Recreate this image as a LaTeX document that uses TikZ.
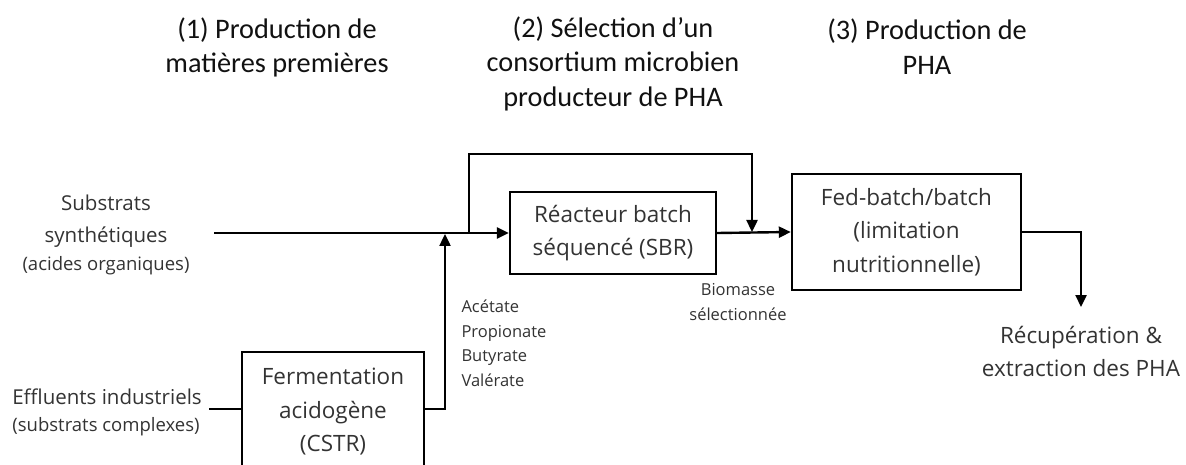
\documentclass[tikz,border=0pt]{standalone}
\usepackage{fontspec}
\setmainfont{Open Sans}
\newfontfamily\headfont{Carlito}
\usetikzlibrary{arrows.meta}
\definecolor{txt}{HTML}{333333}
\definecolor{hd}{HTML}{111111}
\begin{document}
\begin{tikzpicture}[x=1pt,y=-1pt,
  box/.style={draw=black, line width=2.4pt, inner sep=0pt, align=center, text=txt,
    font=\fontsize{22.5}{33.5}\selectfont},
  flow/.style={line width=2.4pt, -{Triangle[length=12pt,width=11pt]}},
  plain/.style={line width=2.4pt},
  head/.style={align=center, text=hd, font=\headfont\fontsize{28.3}{34.5}\selectfont},
  lab/.style={align=center, text=txt, font=\fontsize{20.5}{32}\selectfont},
  note/.style={align=center, text=txt, font=\fontsize{18.5}{24}\selectfont},
  small/.style={text=txt, font=\fontsize{16.5}{24.5}\selectfont}]
\useasboundingbox (0,0) rectangle (1186,465);
\clip (0,0) rectangle (1186,465);

% headings
\node[head] (h1) at (277,47.5) {(1) Production de\\matières premières};
\node[head] (h2) at (613,63.5) {(2) Sélection d’un\\consortium microbien\\producteur de PHA};
\node[head] (h3) at (927,46.5) {(3) Production de\\PHA};

% boxes
\node[box, minimum width=206pt, minimum height=82pt] (sbr) at (613,233) {Réacteur batch\\séquencé (SBR)};
\node[box, minimum width=229pt, minimum height=116pt] (fed) at (906.5,232) {Fed-batch/batch\\(limitation\\nutritionnelle)};
\node[box, minimum width=182pt, minimum height=120pt] (cstr) at (333,412) {Fermentation\\acidogène\\(CSTR)};

% side labels
\node[lab] (subs) at (106,221) {Substrats\\synthétiques};
\node[note] (subsn) at (106,266) {(acides organiques)};
\node[lab] (eff) at (107,397) {Effluents industriels};
\node[note] (effn) at (106,427) {(substrats complexes)};
\node[small, align=left, anchor=west] (vfa) at (458,343.5) {Acétate\\Propionate\\Butyrate\\Valérate};
\node[small, align=center] (bio) at (738,302) {Biomasse\\sélectionnée};
\node[lab, font=\fontsize{22.5}{33}\selectfont] (rec) at (1081,351.5) {Récupération \&\\extraction des PHA};

% coordinates
\coordinate (s0) at (214,233);
\coordinate (b0) at (469,233);
\coordinate (btop) at (752,154);
\coordinate (bj) at (752,232);
\coordinate (j1) at (445,234);
\coordinate (e0) at (209,409);
\coordinate (rtip) at (1081,307);

% connectors
\draw[flow] (s0) -- (sbr.west);
\draw[flow] (b0) |- (btop) -- (bj);
\draw[flow] (sbr.east) -- (fed.west);
\draw[flow] (fed.east) -| (rtip);
\draw[plain] (e0) -- (e0 -| cstr.west);
\draw[flow] (cstr.east |- e0) -| (j1);
\end{tikzpicture}
\end{document}
